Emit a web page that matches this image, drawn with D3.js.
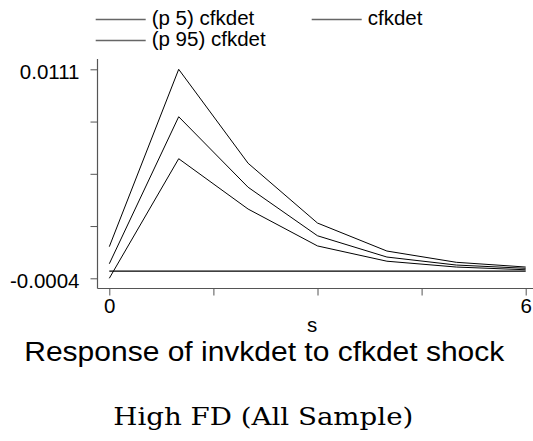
<!DOCTYPE html>
<html>
<head>
<meta charset="utf-8">
<script src="https://cdn.jsdelivr.net/npm/d3@7"></script>
<style>
  body { margin: 0; background: #fff; }
  svg { display: block; }
  text { font-family: "Liberation Sans", Arial, sans-serif; fill: #000; }
</style>
</head>
<body>
<div id="chart"></div>
<script>
// steps after the shock
const steps = [0, 1, 2, 3, 4, 5, 6];
// impulse response and its 5th / 95th percentile bands
const p5 = [-0.0004, 0.00618, 0.00341, 0.00138, 0.00054, 0.00022, 0.00007];
const irf = [0.0004, 0.00849, 0.00461, 0.00194, 0.00077, 0.00033, 0.00015];
const p95 = [0.00134, 0.0111, 0.00593, 0.00264, 0.0011, 0.00048, 0.00022];
const yTicks = [-0.0004, 0.002475, 0.00535, 0.008225, 0.0111];
const yTickLabels = ["-0.0004", "", "", "", "0.0111"];
const xTicks = [0, 1.5, 3, 4.5, 6];
const xTickLabels = ["0", "", "", "", "6"];
const legendNames = ["(p 5) cfkdet", "cfkdet", "(p 95) cfkdet"];

const W = 533, H = 441;
const svg = d3.select("#chart").append("svg")
  .attr("width", W)
  .attr("height", H);

let x = d3.scaleLinear().domain([0, 6]).range([109.3, 525.7]);
let y = d3.scaleLinear().domain([-0.0004, 0.0111]).range([278.3, 69.3]);

const axisX = 97.5, axisY = 288.5;
const axisColor = "#555";

// y axis
let gy = svg.append("g")
  .attr("transform", "translate(" + axisX + ",0)")
  .call(d3.axisLeft(y)
    .tickValues(yTicks)
    .tickFormat((d, i) => yTickLabels[i])
    .tickSize(7)
    .tickPadding(11));
gy.select(".domain").remove();
gy.selectAll(".tick line").attr("stroke", axisColor);
gy.selectAll(".tick text")
  .attr("font-size", 20.5)
  .attr("font-family", "Liberation Sans, Arial, sans-serif")
  .attr("dy", "0.45em");

// x axis
let gx = svg.append("g")
  .attr("transform", "translate(0," + axisY + ")")
  .call(d3.axisBottom(x)
    .tickValues(xTicks)
    .tickFormat((d, i) => xTickLabels[i])
    .tickSize(7)
    .tickPadding(3));
gx.select(".domain").remove();
gx.selectAll(".tick line").attr("stroke", axisColor);
gx.selectAll(".tick text")
  .attr("font-size", 20.5)
  .attr("font-family", "Liberation Sans, Arial, sans-serif");

// axis lines
svg.append("line")
  .attr("x1", axisX).attr("x2", axisX)
  .attr("y1", 59).attr("y2", axisY)
  .attr("stroke", axisColor).attr("stroke-width", 1.2);
svg.append("line")
  .attr("x1", axisX).attr("x2", W)
  .attr("y1", axisY).attr("y2", axisY)
  .attr("stroke", axisColor).attr("stroke-width", 1.2);

// zero line
svg.append("line")
  .attr("x1", x(0)).attr("x2", x(6))
  .attr("y1", y(0)).attr("y2", y(0))
  .attr("stroke", "#000").attr("stroke-width", 1.2);

let line = d3.line()
  .x((d, i) => x(steps[i]))
  .y(d => y(d));

[p5, irf, p95].forEach(function(s) {
  svg.append("path")
    .datum(s)
    .attr("d", line)
    .attr("fill", "none")
    .attr("stroke", "#000")
    .attr("stroke-width", 1);
});

// legend
const legendPos = [[95.7, 19.5], [311.7, 19.5], [95.7, 40.5]];
legendNames.forEach(function(name, i) {
  let p = legendPos[i];
  svg.append("line")
    .attr("x1", p[0]).attr("x2", p[0] + 50)
    .attr("y1", p[1]).attr("y2", p[1])
    .attr("stroke", "#666").attr("stroke-width", 1.5);
  svg.append("text")
    .attr("x", p[0] + 56)
    .attr("y", p[1] + 5.5)
    .attr("font-size", 20.5)
    .text(name);
});

// axis title
svg.append("text")
  .attr("x", 312).attr("y", 331.5)
  .attr("text-anchor", "middle")
  .attr("font-size", 20.5)
  .text("s");

// chart title
svg.append("text")
  .attr("x", 264.3).attr("y", 360.7)
  .attr("text-anchor", "middle")
  .attr("font-size", 27)
  .attr("textLength", 480)
  .attr("lengthAdjust", "spacingAndGlyphs")
  .text("Response of invkdet to cfkdet shock");

// subtitle
svg.append("text")
  .attr("x", 263.3).attr("y", 425)
  .attr("text-anchor", "middle")
  .attr("font-size", 24)
  .attr("textLength", 300)
  .attr("lengthAdjust", "spacingAndGlyphs")
  .style("font-family", "'DejaVu Serif', serif")
  .text("High FD (All Sample)");
</script>
</body>
</html>
